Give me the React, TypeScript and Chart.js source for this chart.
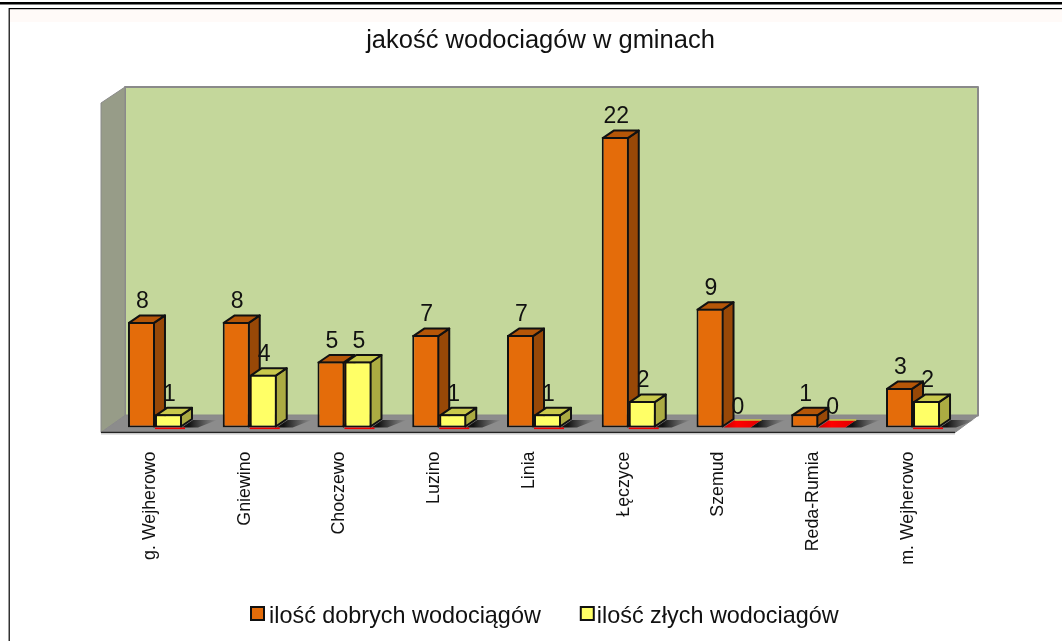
import React, { useEffect, useRef } from "react";
import { Chart, registerables } from "chart.js";

Chart.register(...registerables);

const categories = ["g. Wejherowo", "Gniewino", "Choczewo", "Luzino", "Linia", "Łęczyce", "Szemud", "Reda-Rumia", "m. Wejherowo"];
const goodLabel = "ilość dobrych wodociągów";
const badLabel = "ilość złych wodociagów";
const goodValues = [8, 8, 5, 7, 7, 22, 9, 1, 3];
const badValues = [1, 4, 5, 1, 1, 2, 0, 0, 2];
const titleText = "jakość wodociagów w gminach";

const FONT = "'Liberation Sans', Arial, sans-serif";
const DX = 11;
const DY = 7.5;
const skins = [
  { front: "#E46C0A", top: "#B55608", side: "#984807" },
  { front: "#FFFF66", top: "#C9C94C", side: "#ABAB42" },
];

function poly(ctx: any, pts: number[][], fill: any, stroke?: string, lw = 1) {
  ctx.beginPath();
  pts.forEach((p, i) => (i ? ctx.lineTo(p[0], p[1]) : ctx.moveTo(p[0], p[1])));
  ctx.closePath();
  ctx.fillStyle = fill;
  ctx.fill();
  if (stroke) {
    ctx.strokeStyle = stroke;
    ctx.lineWidth = lw;
    ctx.stroke();
  }
}

const framePlugin = {
  id: "frame",
  beforeDraw(chart: any) {
    const ctx = chart.ctx;
    ctx.save();
    ctx.fillStyle = "#FFFFFF";
    ctx.fillRect(0, 0, 1062, 641);
    ctx.fillStyle = "#FFFAF8";
    ctx.fillRect(10, 9, 1052, 13);
    ctx.fillStyle = "#000000";
    ctx.fillRect(0, 2, 1062, 2.5);
    ctx.fillRect(9, 8, 1053, 1.2);
    ctx.fillRect(8.6, 8, 1.2, 633);
    ctx.restore();
    const lg = chart.legend;
    if (lg) {
      lg.left = 213;
      lg.right = 1062;
      lg.top = 565;
      lg.bottom = 641;
    }
    const tb = chart.titleBlock;
    if (tb) {
      tb.left = 119;
      tb.right = 962;
    }
  },
  afterDraw(chart: any) {
    const ctx = chart.ctx;
    ctx.save();
    const lab = chart.options.plugins.legend.labels;
    ctx.font = lab.font.size + "px " + FONT;
    const w = ctx.measureText(goodLabel).width;
    const step = lab.boxWidth + lab.font.size / 2 + w + lab.padding;
    [0, 1].forEach((i) => {
      const x = 251 + (i ? step + 2 : 0);
      ctx.fillStyle = skins[i].front;
      ctx.strokeStyle = "#111";
      ctx.lineWidth = 2;
      ctx.fillRect(x, 607, 13, 13);
      ctx.strokeRect(x, 607, 13, 13);
    });
    ctx.restore();
  },
};

const bars3dPlugin = {
  id: "bars3d",
  beforeDatasetsDraw(chart: any) {
    const ctx = chart.ctx;
    const { left, right, bottom, top } = chart.chartArea;
    const L = left - 6.6;
    const R = right - 5.4;
    const fb = bottom + 5;
    const wallTop = top - 10.5;
    ctx.save();
    ctx.lineJoin = "round";
    // back wall
    poly(ctx, [[L + 24, wallTop], [R + 23, wallTop], [R + 23, fb - 17], [L + 24, fb - 17]], "#C4D79B", "#8A8A8A", 2);
    // left wall
    poly(ctx, [[L, wallTop + 16], [L + 24, wallTop], [L + 24, fb - 17], [L, fb]], "#979C88", "#8A8A8A", 1);
    // floor
    poly(ctx, [[L, fb], [L + 24, fb - 17], [R + 23, fb - 17], [R, fb]], "#8C8C8C", "#8A8A8A", 1);
    ctx.strokeStyle = "#222";
    ctx.lineWidth = 1.3;
    ctx.beginPath();
    ctx.moveTo(L, fb);
    ctx.lineTo(R, fb);
    ctx.stroke();
    ctx.strokeStyle = "#C8C8C8";
    ctx.lineWidth = 1;
    ctx.beginPath();
    ctx.moveTo(L, fb + 1.5);
    ctx.lineTo(R, fb + 1.5);
    ctx.stroke();

    const m0 = chart.getDatasetMeta(0).data;
    const m1 = chart.getDatasetMeta(1).data;

    // floor shadows and the flat red zero marks
    categories.forEach((_, i) => {
      const b = m1[i];
      const base = b.base;
      const xr = b.x + b.width / 2;
      const g = ctx.createLinearGradient(xr + DX - 4, 0, xr + DX + 24, 0);
      g.addColorStop(0, "rgba(10,10,10,0.95)");
      g.addColorStop(1, "rgba(40,40,40,0)");
      poly(ctx, [[xr, base], [xr + DX, base - DY], [xr + DX + 24, base - DY], [xr + 16, base]], g);
      const xl = b.x - b.width / 2;
      if (badValues[i] === 0) {
        const rg = ctx.createLinearGradient(xl, 0, xr + DX, 0);
        rg.addColorStop(0, "#C00000");
        rg.addColorStop(0.35, "#FF0000");
        rg.addColorStop(1, "#E00000");
        poly(ctx, [[xl, base], [xl + DX, base - DY], [xr + DX, base - DY], [xr, base]], rg);
        ctx.strokeStyle = "#C9C94C";
        ctx.lineWidth = 1.5;
        ctx.beginPath();
        ctx.moveTo(xl + DX, base - DY);
        ctx.lineTo(xr + DX, base - DY);
        ctx.stroke();
      } else {
        ctx.fillStyle = "#F00000";
        ctx.fillRect(xl, base, b.width + 3, 1.6);
      }
    });

    // side and top faces, left to right
    categories.forEach((_, i) => {
      [m0[i], m1[i]].forEach((b: any, d: number) => {
        const v = d ? badValues[i] : goodValues[i];
        if (v === 0) return;
        const l = b.x - b.width / 2 + 1;
        const r = b.x + b.width / 2 - 1;
        const t = b.y + 1;
        const bs = b.base - 1;
        poly(ctx, [[r, t], [r + DX, t - DY], [r + DX, bs - DY], [r, bs]], skins[d].side, "#111", 2);
        poly(ctx, [[l, t], [l + DX, t - DY], [r + DX, t - DY], [r, t]], skins[d].top, "#111", 2);
      });
    });
    ctx.restore();
  },
  afterDatasetsDraw(chart: any) {
    const ctx = chart.ctx;
    ctx.save();
    ctx.font = "23px " + FONT;
    ctx.fillStyle = "#111111";
    ctx.textAlign = "center";
    ctx.textBaseline = "middle";
    chart.data.datasets.forEach((ds: any, d: number) => {
      chart.getDatasetMeta(d).data.forEach((b: any, i: number) => {
        ctx.fillText(String(ds.data[i]), b.x + 1, b.y - 20);
      });
    });
    ctx.restore();
  },
};

export default function App() {
  const ref = useRef<HTMLCanvasElement>(null);
  useEffect(() => {
    document.body.style.margin = "0";
    let legendH = 0;
    const zeroless = (ctx: any) => (ctx.raw === 0 ? 0 : 2);
    const chart = new Chart(ref.current as any, {
      type: "bar",
      data: {
        labels: categories,
        datasets: [
          { label: goodLabel, data: goodValues, backgroundColor: skins[0].front, borderColor: "#111", borderWidth: zeroless, borderSkipped: false },
          { label: badLabel, data: badValues, backgroundColor: skins[1].front, borderColor: "#111", borderWidth: zeroless, borderSkipped: false },
        ],
      },
      options: {
        responsive: false,
        animation: false,
        layout: { padding: { left: 107.6, right: 101.6, top: 0, bottom: 0 } },
        datasets: { bar: { categoryPercentage: 0.57, barPercentage: 1 } },
        plugins: {
          tooltip: { enabled: false },
          title: {
            display: true,
            text: titleText,
            color: "#111111",
            font: { family: FONT, size: 25.5, weight: "normal" },
            padding: { top: 26, bottom: 40.9 },
          },
          legend: {
            display: true,
            position: "bottom",
            align: "start",
            labels: {
              boxWidth: 5,
              boxHeight: 5,
              padding: 39.35,
              color: "#111111",
              font: { family: FONT, size: 23.4 },
              generateLabels: (c: any) =>
                c.data.datasets.map((ds: any, i: number) => ({
                  text: ds.label,
                  fillStyle: "rgba(0,0,0,0)",
                  strokeStyle: "rgba(0,0,0,0)",
                  lineWidth: 0,
                  fontColor: "#111111",
                  datasetIndex: i,
                })),
            },
          },
        },
        scales: {
          x: {
            grid: { display: false, drawTicks: false },
            border: { display: false },
            afterFit: (s: any) => {
              s.height = 213.5 - legendH;
            },
            ticks: {
              minRotation: 90,
              maxRotation: 90,
              autoSkip: false,
              padding: 24,
              labelOffset: -5,
              color: "#111111",
              font: { family: FONT, size: 17.8 },
            },
          },
          y: { display: false, min: 0, max: 25 },
        },
      } as any,
      plugins: [framePlugin, bars3dPlugin],
    } as any);
    legendH = (chart as any).legend ? (chart as any).legend.height : 0;
    chart.update();
    return () => chart.destroy();
  }, []);
  return <canvas ref={ref} width={1062} height={641} style={{ display: "block" }} />;
}
